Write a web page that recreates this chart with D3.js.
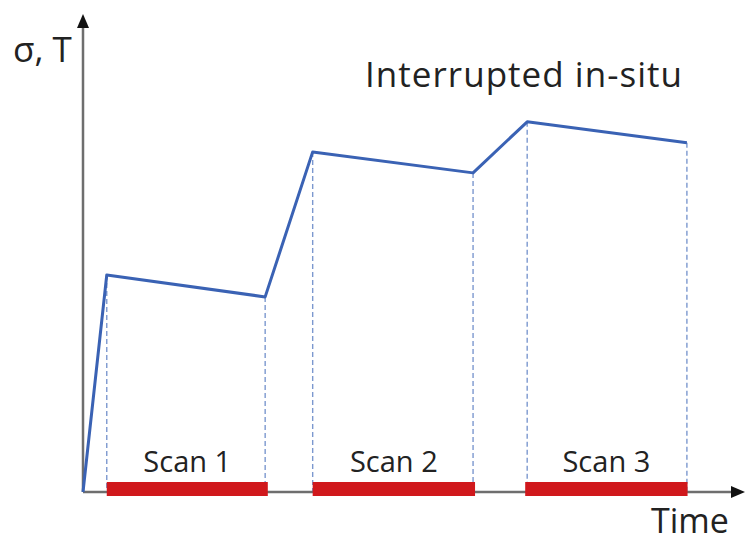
<!DOCTYPE html>
<html>
<head>
<meta charset="utf-8">
<script src="https://cdn.jsdelivr.net/npm/d3@7"></script>
<style>
  html, body { margin: 0; padding: 0; background: #fff; }
  svg text { font-family: "Open Sans", sans-serif; fill: #222; }
</style>
</head>
<body>
<div id="chart"></div>
<script>
// load path: time vs stress (arbitrary units)
const times = [0, 3.6, 27.6, 34.8, 59.1, 67.3, 91.5];
const stress = [0, 45.5, 40.9, 71.3, 66.9, 77.6, 73.2];
// scan windows (hold periods)
const scanNames = ['Scan 1', 'Scan 2', 'Scan 3'];
const scanStart = [3.6, 34.8, 67.0];
const scanEnd = [28.0, 59.4, 91.6];
// times where dashed guides drop to the axis
const guideIdx = [1, 2, 3, 4, 5, 6];

const width = 745, height = 543;
const svg = d3.select('#chart').append('svg')
  .attr('width', width)
  .attr('height', height);

const x = d3.scaleLinear().domain([0, 100]).range([83, 743]);
const y = d3.scaleLinear().domain([0, 100]).range([492, 15]);

const data = times.map((t, i) => ({ t: t, v: stress[i] }));

// dashed guides
svg.append('g').selectAll('line')
  .data(guideIdx)
  .enter().append('line')
  .attr('x1', i => x(times[i]))
  .attr('x2', i => x(times[i]))
  .attr('y1', i => y(stress[i]))
  .attr('y2', y(0))
  .attr('stroke', '#7c98cf')
  .attr('stroke-width', 1.4)
  .attr('stroke-dasharray', '5,3');

// axes
const axisColor = '#6e6e6e';
svg.append('line')
  .attr('x1', x(0)).attr('x2', 733)
  .attr('y1', y(0)).attr('y2', y(0))
  .attr('stroke', axisColor).attr('stroke-width', 2.5);
svg.append('line')
  .attr('x1', x(0)).attr('x2', x(0))
  .attr('y1', y(0)).attr('y2', 26)
  .attr('stroke', axisColor).attr('stroke-width', 2.5);
// arrowheads
svg.append('path')
  .attr('d', `M745,${y(0)} L731,${y(0) - 6} L731,${y(0) + 6} Z`)
  .attr('fill', '#111');
svg.append('path')
  .attr('d', `M${x(0)},14 L${x(0) - 6},28 L${x(0) + 6},28 Z`)
  .attr('fill', '#111');

// scan bars
svg.append('g').selectAll('rect')
  .data(scanNames)
  .enter().append('rect')
  .attr('x', (d, i) => x(scanStart[i]))
  .attr('width', (d, i) => x(scanEnd[i]) - x(scanStart[i]))
  .attr('y', y(0) - 10)
  .attr('height', 14)
  .attr('fill', '#d0181c');

svg.append('g').selectAll('text')
  .data(scanNames)
  .enter().append('text')
  .attr('x', (d, i) => (x(scanStart[i]) + x(scanEnd[i])) / 2)
  .attr('y', 472)
  .attr('text-anchor', 'middle')
  .attr('font-size', 29)
  .text(d => d);

// load curve
const line = d3.line()
  .x(d => x(d.t))
  .y(d => y(d.v));
svg.append('path')
  .datum(data)
  .attr('d', line)
  .attr('fill', 'none')
  .attr('stroke', '#3a62b4')
  .attr('stroke-width', 3)
  .attr('stroke-linejoin', 'round');

// labels
svg.append('text')
  .attr('x', 13).attr('y', 62)
  .attr('font-size', 35)
  .text('σ, T');
svg.append('text')
  .attr('x', 365).attr('y', 87)
  .attr('font-size', 35)
  .attr('textLength', 317)
  .attr('lengthAdjust', 'spacing')
  .text('Interrupted in-situ');
svg.append('text')
  .attr('x', 651).attr('y', 533)
  .attr('font-size', 34)
  .text('Time');
</script>
</body>
</html>
